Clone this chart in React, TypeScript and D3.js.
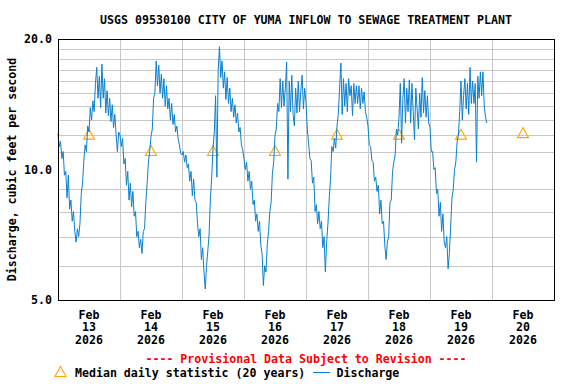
import React from 'react';
import * as d3 from 'd3';

// half-hourly discharge, cfs, one array per day starting at 00:00
const feb13 = [12.1, 11.3, 11.6, 10.6, 11.0, 9.7, 9.9, 8.6, 9.7, 8.1, 8.5, 7.6, 8.0, 7.2, 6.8, 7.3, 7.0, 7.5, 8.8, 9.3, 10.5, 11.4, 11.0, 12.6, 12.2, 13.9, 13.0, 14.4, 13.6, 15.8, 17.2, 14.6, 16.4, 13.9, 17.5, 14.6, 16.2, 13.5, 15.2, 13.3, 14.6, 12.9, 14.1, 12.5, 13.4, 12.0, 11.0, 12.2];
const feb14 = [12.0, 11.3, 11.8, 10.3, 10.6, 9.2, 9.9, 8.5, 9.3, 8.2, 8.9, 7.8, 8.0, 7.0, 7.2, 6.6, 6.9, 6.4, 7.2, 7.3, 8.4, 9.3, 10.4, 11.0, 11.9, 12.4, 14.6, 15.0, 17.8, 15.6, 17.4, 15.0, 16.6, 14.6, 16.2, 14.0, 15.6, 13.8, 14.6, 13.0, 14.2, 12.7, 13.4, 12.2, 12.6, 11.8, 11.4, 10.9];
const feb15 = [10.8, 11.0, 10.4, 10.8, 10.1, 10.3, 9.4, 9.9, 8.7, 9.5, 8.5, 8.4, 7.5, 7.0, 7.3, 6.2, 6.6, 5.8, 5.3, 6.0, 6.5, 7.1, 8.6, 9.6, 11.2, 12.2, 14.8, 9.6, 16.9, 19.2, 16.3, 17.8, 15.4, 16.8, 14.5, 16.3, 14.2, 15.4, 13.6, 14.6, 13.2, 14.1, 12.8, 13.5, 12.2, 12.5, 11.4, 11.1];
const feb16 = [10.6, 10.0, 10.4, 9.4, 9.9, 9.0, 9.4, 8.3, 8.5, 7.6, 7.9, 7.2, 7.6, 6.7, 6.4, 5.4, 6.0, 5.8, 6.7, 7.2, 8.0, 8.4, 9.8, 10.4, 12.0, 12.4, 14.2, 13.6, 16.2, 13.9, 16.0, 14.0, 15.4, 17.7, 9.5, 16.0, 13.6, 16.5, 13.4, 12.6, 15.4, 13.5, 16.0, 13.6, 15.2, 16.5, 13.8, 15.4];
const feb17 = [14.3, 12.4, 11.5, 10.6, 10.5, 9.3, 9.6, 8.0, 8.3, 7.5, 8.0, 7.3, 7.6, 6.6, 7.0, 5.8, 6.8, 7.5, 8.6, 9.5, 11.3, 11.0, 11.8, 11.2, 12.6, 13.4, 15.4, 17.6, 13.4, 16.2, 14.0, 15.8, 13.6, 16.2, 14.8, 15.6, 13.3, 15.8, 14.2, 15.6, 14.2, 15.6, 13.8, 15.4, 14.2, 15.1, 13.6, 13.2];
const feb18 = [12.6, 11.4, 11.3, 10.5, 10.4, 9.4, 9.6, 8.9, 9.2, 7.9, 8.5, 7.5, 7.6, 6.7, 6.2, 6.8, 7.0, 8.4, 8.5, 9.9, 10.4, 10.8, 12.4, 12.0, 13.2, 15.8, 11.5, 14.6, 16.2, 12.8, 15.4, 13.6, 16.1, 12.8, 15.8, 13.6, 11.7, 15.4, 13.8, 12.4, 15.0, 13.2, 16.3, 13.5, 15.2, 13.2, 14.8, 12.8];
const feb19 = [12.5, 11.0, 11.0, 10.0, 10.1, 8.8, 9.0, 7.8, 8.4, 7.2, 7.9, 6.8, 6.6, 7.0, 5.9, 6.4, 7.4, 8.6, 9.0, 10.0, 10.4, 11.6, 12.0, 13.6, 16.0, 13.0, 14.8, 16.2, 13.8, 15.8, 13.4, 17.2, 14.2, 16.0, 14.2, 15.8, 10.4, 16.4, 14.6, 16.8, 14.8, 16.8, 14.0, 13.2, 12.8];
const dischargeDays = [feb13, feb14, feb15, feb16, feb17, feb18, feb19];

// median daily statistic (20 years), one per day Feb 13..20
const medianDays = [13, 14, 15, 16, 17, 18, 19, 20];
const medianValues = [12.0, 11.0, 11.0, 11.0, 12.0, 12.0, 12.0, 12.1];

const yTicks = [5, 10, 20];
const yGrid = [6, 7, 8, 9, 11, 12, 13, 14, 15, 16, 17, 18, 19];

const W = 576;
const H = 384;
const margin = { top: 39, right: 22, bottom: 84, left: 58 };
const font = '"DejaVu Sans Mono", "Liberation Mono", monospace';
const blue = '#0a80d0';
const orange = '#ffa500';

const day = (d: number, h = 0) => new Date(Date.UTC(2026, 1, d, h));

export default function App() {
  const x = d3.scaleUtc()
    .domain([day(13), day(21)])
    .range([margin.left, W - margin.right]);
  const y = d3.scaleLog()
    .domain([5, 20])
    .range([H - margin.bottom, margin.top]);

  const points = dischargeDays.flatMap((vals, di) =>
    vals.map((v, i) => ({ t: new Date(day(13 + di).getTime() + i * 30 * 60000), v }))
  );
  const line = d3.line<{ t: Date; v: number }>()
    .x(d => x(d.t))
    .y(d => y(d.v));

  const tri = (cx: number, cy: number) =>
    `M${cx},${cy - 6}L${cx + 5.5},${cy + 4}L${cx - 5.5},${cy + 4}Z`;

  const vGrid = d3.utcDay.range(day(14), day(21));
  const x0 = margin.left, x1 = W - margin.right;
  const y0 = margin.top, y1 = H - margin.bottom;

  return (
    <svg width={W} height={H} style={{ position: 'absolute', left: 0, top: 0, background: '#fff' }}
      fontFamily={font} fontWeight="bold" fontSize={11.6}>
      <rect width={W} height={H} fill="#fff" />
      <text x={306} y={24} textAnchor="middle">USGS 09530100 CITY OF YUMA INFLOW TO SEWAGE TREATMENT PLANT</text>

      {yGrid.map(v => (
        <line key={v} x1={x0} x2={x1} y1={Math.round(y(v)) + 0.5} y2={Math.round(y(v)) + 0.5}
          stroke="#c8c8c8" />
      ))}
      {vGrid.map(d => (
        <line key={+d} x1={Math.round(x(d)) + 0.5} x2={Math.round(x(d)) + 0.5} y1={y0} y2={y1}
          stroke="#c8c8c8" />
      ))}

      {medianDays.map((d, i) => (
        <path key={d} d={tri(x(day(d, 12)), y(medianValues[i]))} fill="none" stroke={orange} strokeWidth={1.1} />
      ))}

      <path d={line(points) ?? ''} fill="none" stroke={blue} strokeWidth={1} />

      <rect x={x0 + 0.5} y={y0 + 0.5} width={x1 - x0} height={y1 - y0} fill="none" stroke="#000" />

      {yTicks.map(v => (
        <text key={v} x={x0 - 6} y={y(v) + 4} textAnchor="end">{v.toFixed(1)}</text>
      ))}
      <text transform={`translate(15.5,${(y0 + y1) / 2}) rotate(-90)`} textAnchor="middle">
        Discharge, cubic feet per second
      </text>

      {medianDays.map(d => {
        const cx = x(day(d, 12));
        return (
          <g key={d} textAnchor="middle">
            <text x={cx} y={318.5}>Feb</text>
            <text x={cx} y={331}>{d}</text>
            <text x={cx} y={343.5}>2026</text>
          </g>
        );
      })}

      <text x={306} y={362.5} textAnchor="middle" fill="#ff0000">---- Provisional Data Subject to Revision ----</text>
      <path d={tri(60.5, 372.5)} fill="none" stroke={orange} strokeWidth={1.1} />
      <text x={75} y={376.5}>Median daily statistic (20 years)</text>
      <line x1={313} x2={330} y1={372.5} y2={372.5} stroke={blue} />
      <text x={336.5} y={376.5}>Discharge</text>
    </svg>
  );
}
